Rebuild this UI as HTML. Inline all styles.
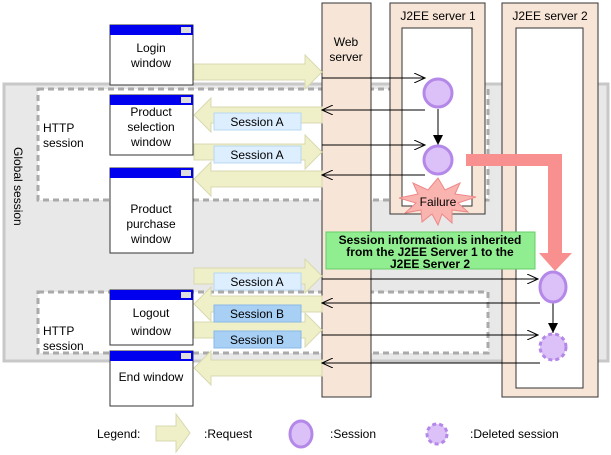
<!DOCTYPE html>
<html><head><meta charset="utf-8"><style>
html,body{margin:0;padding:0;background:#fff}
svg{display:block;font-family:"Liberation Sans",Arial,sans-serif}
</style></head><body>
<svg width="611" height="455" viewBox="0 0 611 455" xmlns="http://www.w3.org/2000/svg">
<defs>
<marker id="oa" markerWidth="12" markerHeight="10" refX="11" refY="5" orient="auto" markerUnits="userSpaceOnUse"><path d="M0,0 L11,5 L0,10" fill="none" stroke="#000" stroke-width="1"/></marker>
<marker id="fa" markerWidth="10" markerHeight="10" refX="10" refY="5" orient="auto" markerUnits="userSpaceOnUse"><path d="M0,0 L10,5 L0,10 Z" fill="#000"/></marker>
</defs>
<rect x="4" y="84" width="604" height="277" fill="#e8e8e8" stroke="#c8c8c8" stroke-width="3"/>
<text transform="translate(14,147) rotate(90)" font-size="12" fill="#000">Global session</text>
<rect x="38" y="89" width="450" height="111" fill="#fff" stroke="#aaa" stroke-width="3" stroke-dasharray="6,4"/>
<rect x="38" y="292" width="450" height="61" fill="#fff" stroke="#aaa" stroke-width="3" stroke-dasharray="6,4"/>
<text x="43" y="132" font-size="12">HTTP</text><text x="43" y="147" font-size="12">session</text>
<text x="43" y="335" font-size="12">HTTP</text><text x="43" y="350" font-size="12">session</text>
<rect x="322" y="3" width="49" height="394" fill="#f7e6d8" stroke="#333"/>
<text x="346" y="46" font-size="12" text-anchor="middle">Web</text><text x="346" y="61" font-size="12" text-anchor="middle">server</text>
<rect x="390" y="3" width="95" height="211" fill="#f7e6d8" stroke="#333"/>
<rect x="402" y="28" width="70" height="178" fill="#fff" stroke="#333"/>
<text x="438" y="20" font-size="12" text-anchor="middle">J2EE server 1</text>
<rect x="502" y="3" width="96" height="394" fill="#f7e6d8" stroke="#333"/>
<rect x="516" y="28" width="67" height="360" fill="#fff" stroke="#333"/>
<text x="550" y="20" font-size="12" text-anchor="middle">J2EE server 2</text>
<g stroke="#333" fill="#fff">
<rect x="110" y="25" width="83" height="60"/><rect x="110" y="95" width="83" height="60"/>
<rect x="110" y="168" width="83" height="85"/><rect x="110" y="290" width="83" height="55"/>
<rect x="110" y="351" width="83" height="55"/>
</g>
<g fill="#0000ee">
<rect x="110" y="25" width="83" height="10"/><rect x="110" y="95" width="83" height="10"/>
<rect x="110" y="168" width="83" height="10"/><rect x="110" y="290" width="83" height="10"/>
<rect x="110" y="351" width="83" height="10"/>
</g>
<g fill="#ddd"><rect x="181" y="27" width="10" height="6"/><rect x="181" y="97" width="10" height="6"/><rect x="181" y="170" width="10" height="6"/><rect x="181" y="292" width="10" height="6"/><rect x="181" y="353" width="10" height="6"/></g>
<g font-size="12" text-anchor="middle">
<text x="151" y="52">Login</text><text x="151" y="67">window</text>
<text x="151" y="116">Product</text><text x="151" y="131">selection</text><text x="151" y="146">window</text>
<text x="151" y="213">Product</text><text x="151" y="228">purchase</text><text x="151" y="243">window</text>
<text x="151" y="317">Logout</text><text x="151" y="335">window</text>
<text x="151" y="381">End window</text>
</g>
<g fill="#f0f0c8" stroke="#d8d8b0">
<path d="M194,64 H305 V55 L322,72 L305,89 V80 H194 Z"/>
<path d="M322,107 H211 V98 L194,115 L211,132 V123 H322 Z"/>
<path d="M194,144 H305 V135 L322,152 L305,169 V160 H194 Z"/>
<path d="M322,171 H211 V162 L194,179 L211,196 V187 H322 Z"/>
<path d="M194,268 H305 V259 L322,276 L305,293 V284 H194 Z"/>
<path d="M322,296 H211 V287 L194,304 L211,321 V312 H322 Z"/>
<path d="M194,322 H305 V313 L322,330 L305,347 V338 H194 Z"/>
<path d="M322,360 H211 V351 L194,368 L211,385 V376 H322 Z"/>
</g>
<g font-size="12" text-anchor="middle">
<rect x="214" y="113" width="87" height="17" fill="#ddeeff" stroke="#b8d8f0"/><text x="257" y="126">Session A</text>
<rect x="214" y="146" width="87" height="17" fill="#ddeeff" stroke="#b8d8f0"/><text x="257" y="159">Session A</text>
<rect x="214" y="273" width="87" height="17" fill="#ddeeff" stroke="#b8d8f0"/><text x="257" y="286">Session A</text>
<rect x="214" y="305" width="87" height="17" fill="#a8d0f5" stroke="#88b8e8"/><text x="257" y="318">Session B</text>
<rect x="214" y="331" width="87" height="17" fill="#a8d0f5" stroke="#88b8e8"/><text x="257" y="344">Session B</text>
</g>
<g stroke="#000" stroke-width="1">
<line x1="322" y1="78" x2="425" y2="78" marker-end="url(#oa)"/>
<line x1="425" y1="110" x2="322" y2="110" marker-end="url(#oa)"/>
<line x1="322" y1="145" x2="425" y2="145" marker-end="url(#oa)"/>
<line x1="425" y1="175" x2="322" y2="175" marker-end="url(#oa)"/>
<line x1="322" y1="279" x2="538" y2="279" marker-end="url(#oa)"/>
<line x1="540" y1="303" x2="322" y2="303" marker-end="url(#oa)"/>
<line x1="322" y1="335" x2="538" y2="335" marker-end="url(#oa)"/>
<line x1="540" y1="363" x2="322" y2="363" marker-end="url(#oa)"/>
<line x1="438" y1="109" x2="438" y2="145" marker-end="url(#fa)"/>
<line x1="553" y1="303" x2="553" y2="333" marker-end="url(#fa)"/>
</g>
<path d="M466,154 H562 V253 H572 L555,271 L539,253 H548 V166 H466 Z" fill="#f99090"/>
<g fill="#dcc0f8" stroke="#b488e8" stroke-width="3">
<circle cx="438" cy="93" r="14"/><circle cx="438" cy="160" r="14"/>
<ellipse cx="553" cy="287" rx="13" ry="15"/>
<circle cx="553" cy="347" r="13" stroke-dasharray="4,3"/>
</g>
<polygon points="438,178 445,190 460,183 455,194 476,197 458,203 468,212 452,210 452,223 442,214 438,225 432,214 422,222 421,210 405,213 416,203 399,198 418,194 413,183 428,190" fill="#f9b4b0" stroke="#e88"/>
<text x="438" y="206" font-size="12" text-anchor="middle">Failure</text>
<rect x="326" y="232" width="209" height="37" fill="#90ee90" stroke="#6c6"/>
<g font-size="12" font-weight="bold" text-anchor="middle">
<text x="430" y="244">Session information is inherited</text>
<text x="430" y="256">from the J2EE Server 1 to the</text>
<text x="430" y="268">J2EE Server 2</text>
</g>
<text x="97" y="438" font-size="12">Legend:</text>
<path d="M156,426 H176 V414 L190,433 L176,452 V441 H156 Z" fill="#f0f0c8" stroke="#d8d8b0"/>
<text x="204" y="438" font-size="12">:Request</text>
<ellipse cx="301" cy="434" rx="11" ry="13" fill="#dcc0f8" stroke="#b488e8" stroke-width="3"/>
<text x="330" y="438" font-size="12">:Session</text>
<circle cx="437" cy="434" r="10" fill="#dcc0f8" stroke="#b488e8" stroke-width="3" stroke-dasharray="4,3"/>
<text x="470" y="438" font-size="12">:Deleted session</text>
</svg>
</body></html>
